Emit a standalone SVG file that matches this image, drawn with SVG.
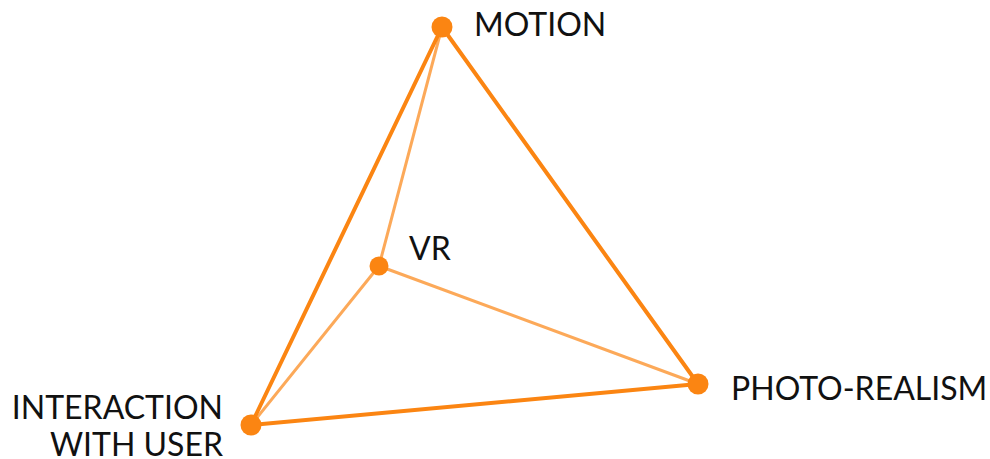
<svg xmlns="http://www.w3.org/2000/svg" width="990" height="459" viewBox="0 0 990 459">
<style>
.outer{stroke:#FB8512;stroke-width:4;stroke-linecap:round;fill:none}
.inner{stroke:#FB8512;stroke-width:3;stroke-linecap:round;fill:none;opacity:0.7}
.dot{fill:#FB8512}
.lbl{font-family:Lato,"Open Sans",sans-serif;font-size:32px;fill:#111}
</style>
<rect width="990" height="459" fill="#fff"/>
<g id="connectors">
<line class="inner" x1="442" y1="27" x2="379" y2="266"/>
<line class="inner" x1="379" y1="266" x2="251" y2="425"/>
<line class="inner" x1="379" y1="266" x2="698" y2="384"/>
<line class="outer" x1="442" y1="27" x2="698" y2="384"/>
<line class="outer" x1="442" y1="27" x2="251" y2="425"/>
<line class="outer" x1="251" y1="425" x2="698" y2="384"/>
</g>
<g id="motion"><circle class="dot" cx="442" cy="27" r="10.5"/><text class="lbl" x="474" y="36">MOTION</text></g>
<g id="vr"><circle class="dot" cx="379" cy="266" r="9.5"/><text class="lbl" x="409" y="260">VR</text></g>
<g id="photo"><circle class="dot" cx="698" cy="384" r="10.5"/><text class="lbl" x="731" y="400">PHOTO-REALISM</text></g>
<g id="interaction"><circle class="dot" cx="251" cy="425" r="10.5"/><text class="lbl" text-anchor="end" x="223" y="419">INTERACTION</text><text class="lbl" text-anchor="end" x="223" y="456">WITH USER</text></g>
</svg>
